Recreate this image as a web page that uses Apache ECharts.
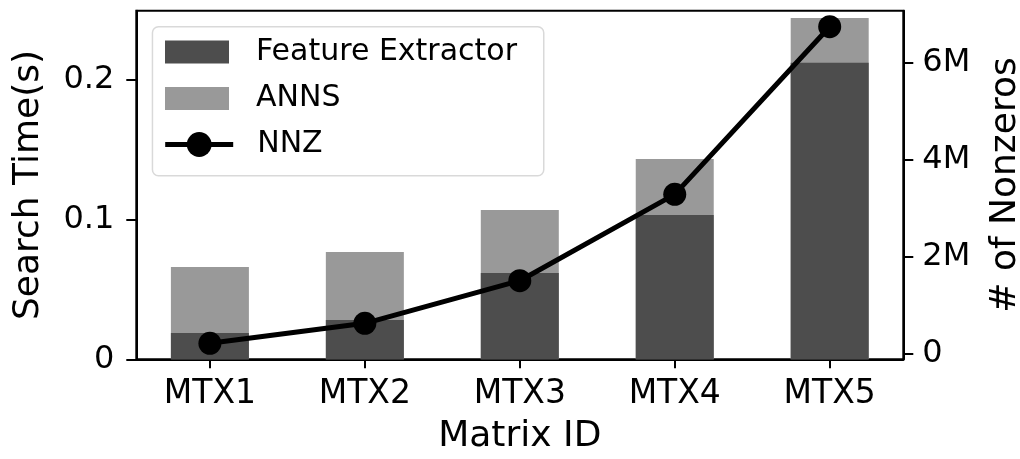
<!DOCTYPE html>
<html>
<head>
<meta charset="utf-8">
<script src="https://cdn.jsdelivr.net/npm/echarts@6/dist/echarts.min.js"></script>
<style>html,body{margin:0;padding:0;background:#fff;}#c{width:1020px;height:459px;}</style>
</head>
<body>
<div id="c"></div>
<script>
const categories = ['MTX1', 'MTX2', 'MTX3', 'MTX4', 'MTX5'];
const featureExtractor = [0.0188, 0.0281, 0.0618, 0.1033, 0.2123];
const anns = [0.0473, 0.0487, 0.0451, 0.0401, 0.0320];
const nnz = [206000, 619000, 1498000, 3280000, 6740000];
const leftTicks = [0, 0.1, 0.2];
const rightTicks = [0, 2000000, 4000000, 6000000];
const catPositions = categories.map((c, i) => i);

const FONT = 'DejaVu Sans';
const chart = echarts.init(document.getElementById('c'), null, {renderer: 'canvas'});
const pairs = arr => arr.map((v, i) => [i, v]);
// stacked totals: the ANNS segment sits on top of the feature extractor segment
const totals = featureExtractor.map((v, i) => v + anns[i]);

chart.setOption({
  animation: false,
  backgroundColor: '#fff',
  textStyle: {fontFamily: FONT, color: '#000'},
  grid: {left: 136.3, top: 10.7, width: 767, height: 348.6, containLabel: false, outerBoundsMode: 'none',
    show: true, borderColor: '#000', borderWidth: 2, backgroundColor: 'transparent'},
  graphic: [{
    type: 'rect', left: 151.7, top: 26, z: 3,
    shape: {width: 391.3, height: 149, r: 6},
    style: {fill: '#fff', stroke: '#d9d9d9', lineWidth: 1.5}
  }],
  legend: [{
    left: 165, top: 37, orient: 'vertical', padding: 0, z: 10,
    itemWidth: 64, itemHeight: 23, itemGap: 16.5, icon: 'rect',
    textStyle: {fontFamily: FONT, fontSize: 30, color: '#000', padding: [0, 0, 0, 22]},
    data: ['Feature Extractor', 'ANNS']
  }, {
    left: 162.7, top: 129.5, orient: 'vertical', padding: 0, z: 10,
    itemWidth: 68, itemHeight: 31,
    lineStyle: {width: 5},
    textStyle: {fontFamily: FONT, fontSize: 30, color: '#000', padding: [0, 0, 0, 19]},
    data: ['NNZ']
  }],
  xAxis: {
    type: 'value', min: -0.475, max: 4.475,
    name: 'Matrix ID', nameLocation: 'middle', nameGap: 59,
    nameTextStyle: {fontFamily: FONT, fontSize: 36, color: '#000'},
    splitLine: {show: false},
    axisLine: {show: true, onZero: false, lineStyle: {color: '#000', width: 2}},
    axisTick: {show: true, length: 9, lineStyle: {color: '#000', width: 2}, customValues: catPositions},
    axisLabel: {fontFamily: FONT, fontSize: 33, color: '#000', margin: 19, customValues: catPositions,
      formatter: v => categories[Math.round(v)]}
  },
  yAxis: [{
    type: 'value', min: 0, max: 0.2495, position: 'left',
    name: 'Search Time(s)', nameLocation: 'middle', nameGap: 90, nameRotate: 90,
    nameTextStyle: {fontFamily: FONT, fontSize: 36, color: '#000'},
    splitLine: {show: false},
    axisLine: {show: true, onZero: false, lineStyle: {color: '#000', width: 2}},
    axisTick: {show: true, length: 10, lineStyle: {color: '#000', width: 2}, customValues: leftTicks},
    axisLabel: {fontFamily: FONT, fontSize: 32, color: '#000', margin: 22, customValues: leftTicks,
      formatter: v => v === 0 ? '0' : String(+v.toFixed(1))}
  }, {
    type: 'value', min: -124000, max: 7070000, position: 'right',
    name: '# of Nonzeros', nameLocation: 'middle', nameGap: 84, nameRotate: 90,
    nameTextStyle: {fontFamily: FONT, fontSize: 36, color: '#000'},
    splitLine: {show: false},
    axisLine: {show: true, onZero: false, lineStyle: {color: '#000', width: 2}},
    axisTick: {show: true, length: 10, lineStyle: {color: '#000', width: 2}, customValues: rightTicks},
    axisLabel: {fontFamily: FONT, fontSize: 32, color: '#000', margin: 19, customValues: rightTicks,
      formatter: v => v === 0 ? '0' : (Math.round(v / 1e6) + 'M')}
  }],
  series: [{
    name: 'Feature Extractor', type: 'bar', barWidth: 78, barGap: '-100%',
    itemStyle: {color: '#4d4d4d'}, data: pairs(featureExtractor), z: 3
  }, {
    name: 'ANNS', type: 'bar', barWidth: 78, barGap: '-100%',
    itemStyle: {color: '#999999'}, data: pairs(totals), z: 2
  }, {
    name: 'NNZ', type: 'line', yAxisIndex: 1,
    symbol: 'circle', symbolSize: 23,
    lineStyle: {color: '#000', width: 5}, itemStyle: {color: '#000'},
    data: pairs(nnz), z: 5
  }]
});
</script>
</body>
</html>
